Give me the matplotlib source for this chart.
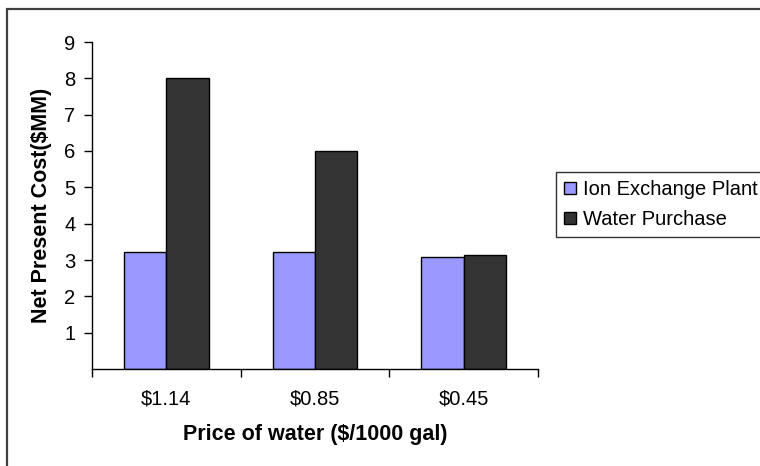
import matplotlib
matplotlib.use('Agg')
import matplotlib.pyplot as plt
import numpy as np
from matplotlib.patches import Rectangle

plt.rcParams['font.family'] = ['Liberation Sans', 'DejaVu Sans']

# price scenarios and net present cost of each option ($MM)
prices = ['$1.14', '$0.85', '$0.45']
ion_exchange = [3.22, 3.22, 3.09]
water_purchase = [8.0, 6.0, 3.14]
series_names = ['Ion Exchange Plant', 'Water Purchase']

C_ION = '#9999FF'
C_WATER = '#333333'

W, H = 760, 466
fig = plt.figure(figsize=(W / 100, H / 100), dpi=100)

# chart-area frame (runs off the right and bottom edges)
frame = Rectangle((7 / W, -0.2), 1.2, 1.2 - 9 / H, transform=fig.transFigure,
                  facecolor='none', edgecolor='#404040', linewidth=1.6,
                  clip_on=False)
fig.patches.append(frame)

ax = fig.add_axes([92 / W, 1 - 369 / H, 446 / W, 327 / H])

x = np.arange(len(prices)) + 0.5
bw = 1 / 3.5   # Excel gap width 150%
ax.bar(x - bw / 2, ion_exchange, bw, color=C_ION, edgecolor='black',
       linewidth=1.0, label=series_names[0], zorder=2)
ax.bar(x + bw / 2, water_purchase, bw, color=C_WATER, edgecolor='black',
       linewidth=1.0, label=series_names[1], zorder=2)

ax.set_xlim(0, len(prices))
ax.set_ylim(0, 9)
ax.set_yticks(range(1, 10))
ax.set_xticks(x)
ax.set_xticklabels(prices)
ax.set_xticks(np.arange(len(prices) + 1), minor=True)
ax.tick_params(axis='x', which='major', length=0, pad=15, labelsize=14.5)
ax.tick_params(axis='x', which='minor', length=6, width=1, direction='out')
ax.tick_params(axis='y', length=6, width=1, direction='out', pad=6,
               labelsize=14.5)

for s in ('top', 'right'):
    ax.spines[s].set_visible(False)
for s in ('left', 'bottom'):
    ax.spines[s].set_linewidth(1.0)

ax.set_xlabel('Price of water ($/1000 gal)', fontsize=15.5, fontweight='bold',
              labelpad=11)
ax.set_ylabel('Net Present Cost($MM)', fontsize=15.5, fontweight='bold',
              labelpad=9)

leg = ax.legend(loc='upper left', bbox_to_anchor=(556 / W, 1 - 172 / H),
                bbox_transform=fig.transFigure, borderaxespad=0,
                fontsize=14.5, frameon=True, fancybox=False, shadow=False,
                handlelength=0.6, handleheight=0.6, handletextpad=0.35,
                labelspacing=0.55, borderpad=0.4)
leg.get_frame().set_edgecolor('black')
leg.get_frame().set_linewidth(1.0)

fig.savefig('out.png', dpi=100)
